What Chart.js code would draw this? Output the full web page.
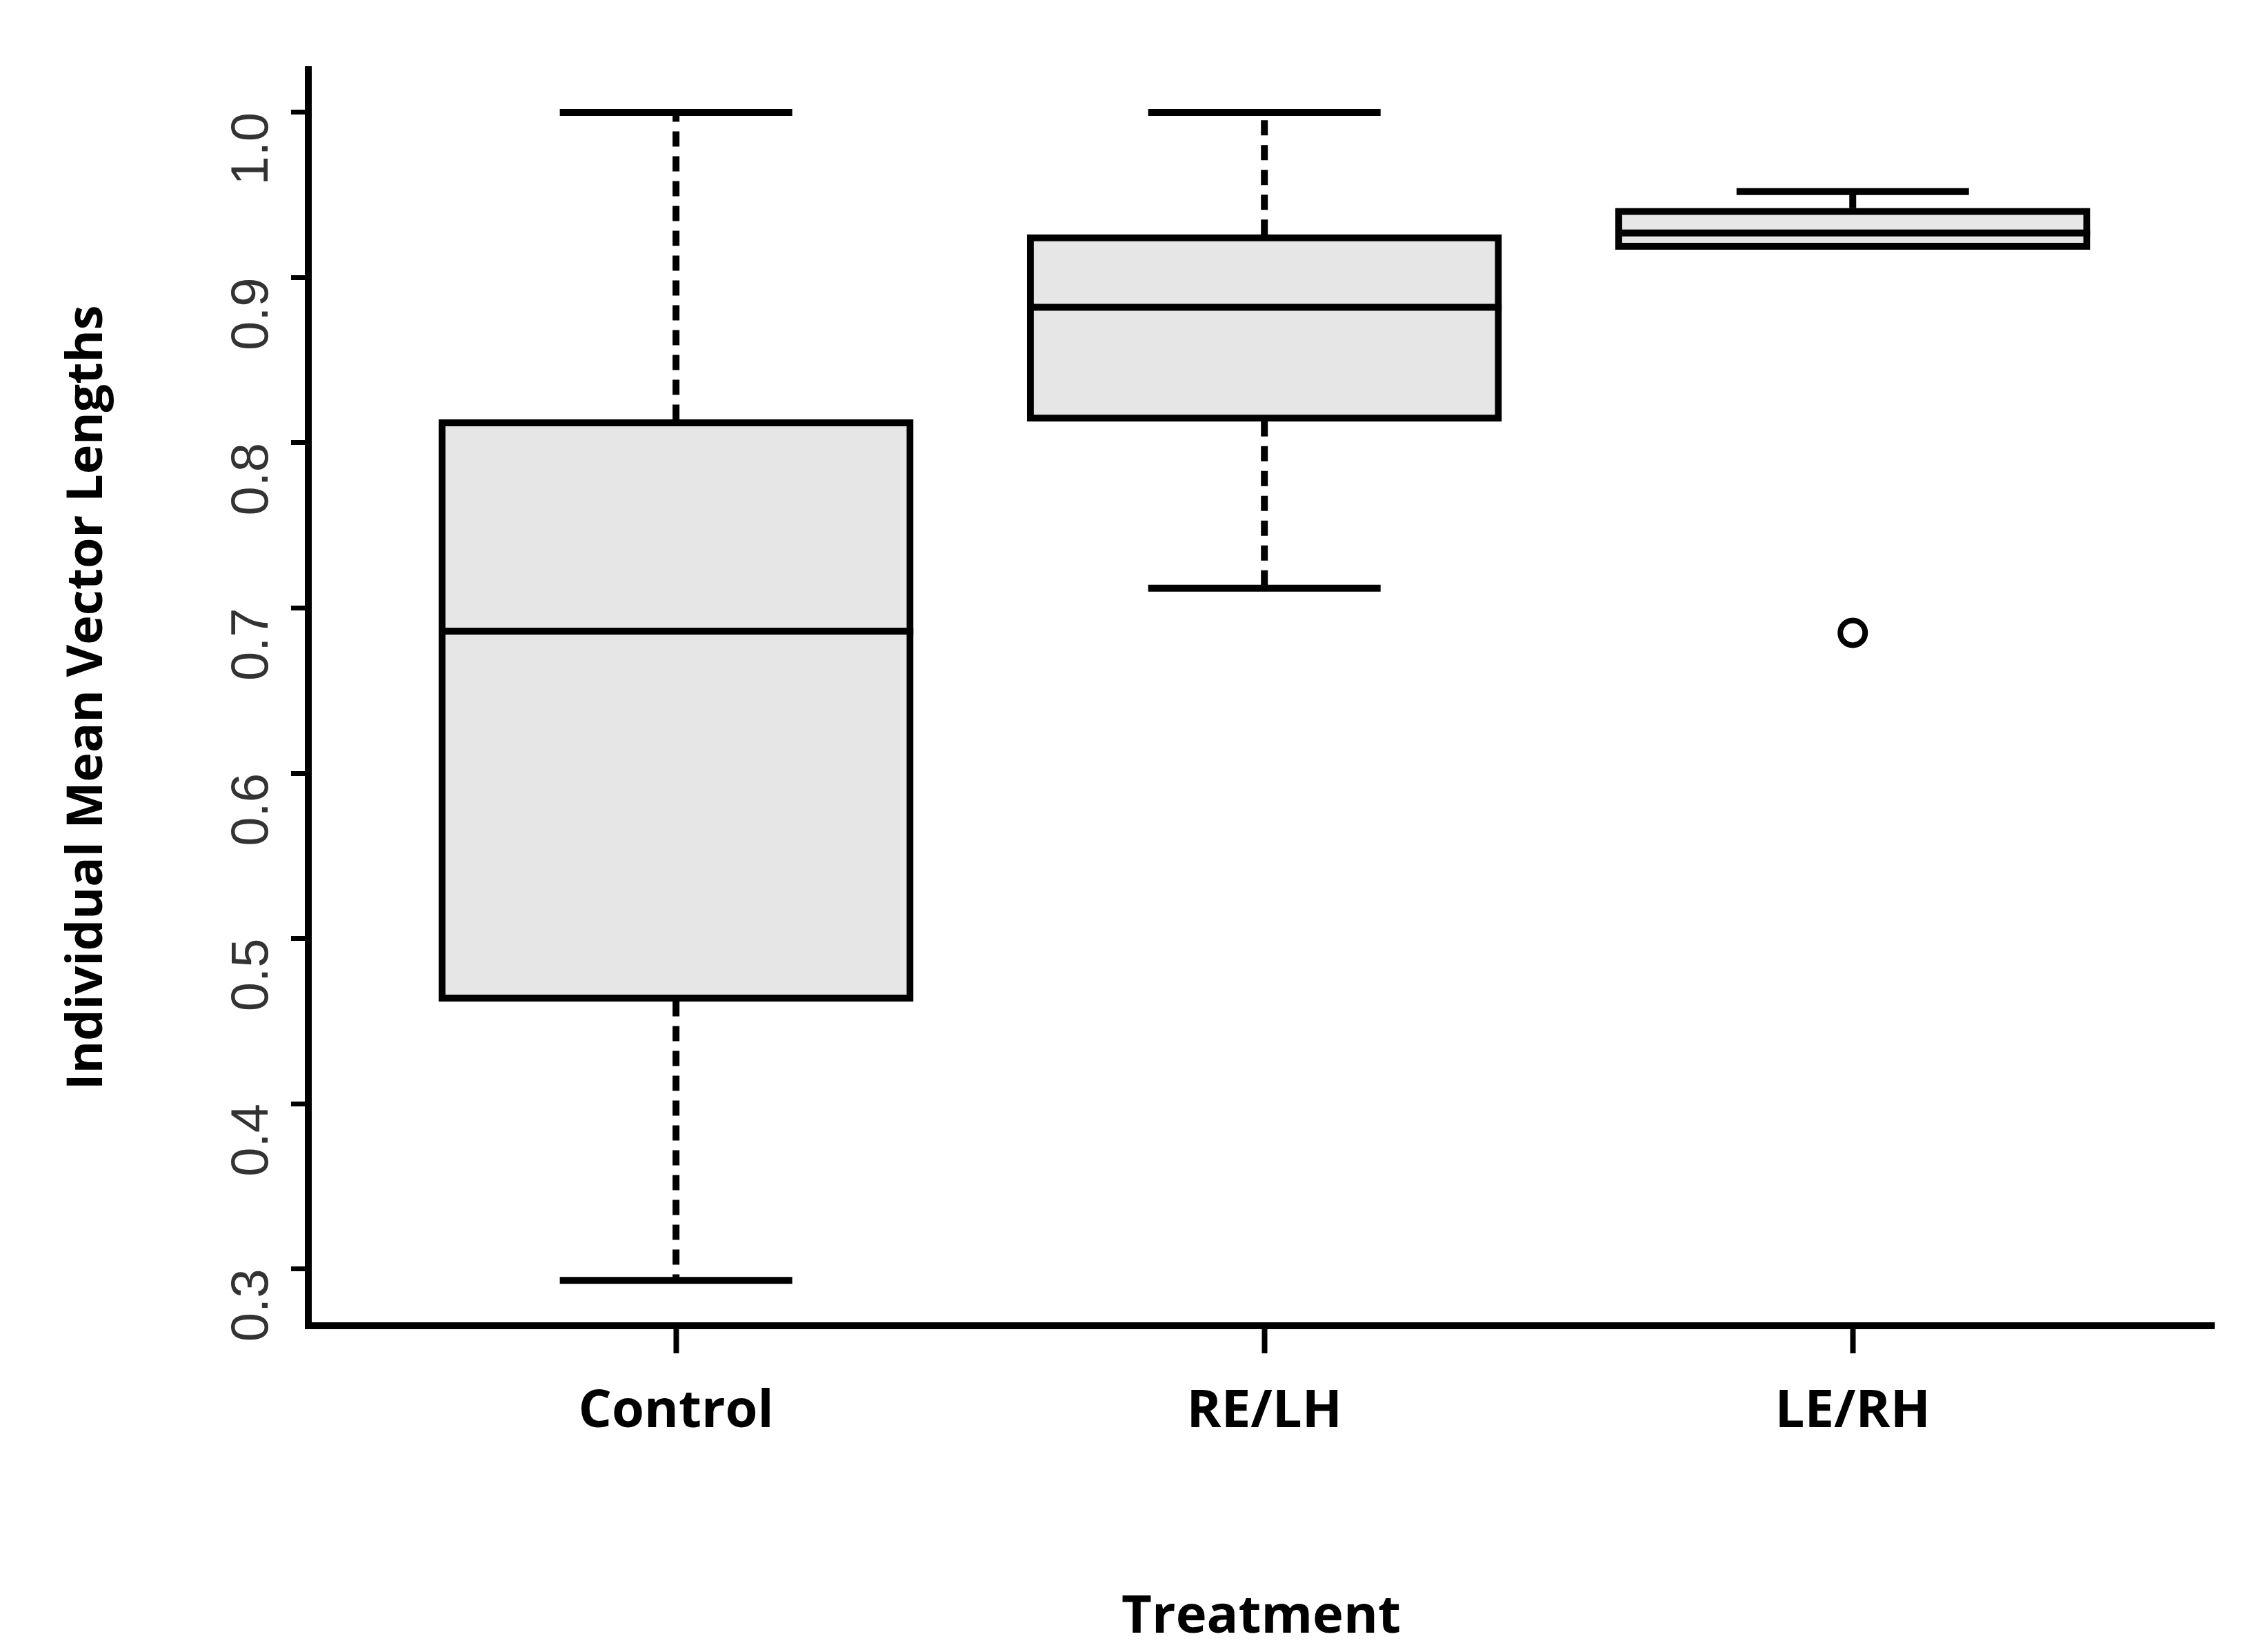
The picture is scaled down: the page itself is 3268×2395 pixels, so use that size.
<!DOCTYPE html>
<html>
<head>
<meta charset="utf-8">
<script src="https://cdn.jsdelivr.net/npm/chart.js@4"></script>
<style>
  html, body { margin: 0; padding: 0; background: #fff; }
  #wrap { width: 3268px; height: 2395px; }
</style>
</head>
<body>
<div id="wrap"><canvas id="c" width="3268" height="2395"></canvas></div>
<script>
const groups = ["Control", "RE/LH", "LE/RH"];
const whiskerLow = [0.293, 0.712, 0.917];
const q1 = [0.462, 0.813, 0.917];
const median = [0.686, 0.882, 0.927];
const q3 = [0.814, 0.926, 0.942];
const whiskerHigh = [1.0, 1.0, 0.952];
const outliers = [[], [], [0.685]];
const yTicks = [0.3, 0.4, 0.5, 0.6, 0.7, 0.8, 0.9, 1.0];

const LW = 10;
const CAP = 337;

// whiskers, caps, medians, outliers drawn from the scales
const boxExtras = {
    id: "boxExtras",
    afterDatasetsDraw(chart) {
        let ctx = chart.ctx;
        let x = chart.scales.x, y = chart.scales.y;
        ctx.save();
        ctx.strokeStyle = "#000";
        ctx.lineWidth = LW;
        groups.forEach((g, i) => {
            let cx = x.getPixelForValue(i);
            let bw = chart.getDatasetMeta(0).data[i].width;
            ctx.setLineDash([22, 14]);
            ctx.beginPath();
            ctx.moveTo(cx, y.getPixelForValue(q3[i]));
            ctx.lineTo(cx, y.getPixelForValue(whiskerHigh[i]));
            ctx.moveTo(cx, y.getPixelForValue(q1[i]));
            ctx.lineTo(cx, y.getPixelForValue(whiskerLow[i]));
            ctx.stroke();
            ctx.setLineDash([]);
            ctx.beginPath();
            [whiskerHigh[i], whiskerLow[i]].forEach(v => {
                if (v === q1[i] || v === q3[i]) return;
                ctx.moveTo(cx - CAP / 2, y.getPixelForValue(v));
                ctx.lineTo(cx + CAP / 2, y.getPixelForValue(v));
            });
            ctx.stroke();
            ctx.beginPath();
            ctx.moveTo(cx - bw / 2, y.getPixelForValue(median[i]));
            ctx.lineTo(cx + bw / 2, y.getPixelForValue(median[i]));
            ctx.stroke();
            ctx.lineWidth = 8;
            outliers[i].forEach(v => {
                ctx.beginPath();
                ctx.arc(cx, y.getPixelForValue(v), 18, 0, Math.PI * 2);
                ctx.stroke();
            });
            ctx.lineWidth = LW;
        });
        ctx.restore();
    }
};

new Chart(document.getElementById("c"), {
    type: "bar",
    data: {
        datasets: [{
            data: groups.map((g, i) => ({x: i, y: [q1[i], q3[i]]})),
            backgroundColor: "#e6e6e6",
            borderColor: "#000",
            borderWidth: LW,
            borderSkipped: false,
            barThickness: 688
        }]
    },
    options: {
        responsive: false,
        animation: false,
        devicePixelRatio: 1,
        layout: {padding: {top: 67, right: 58, left: 80, bottom: 0}},
        plugins: {legend: {display: false}, tooltip: {enabled: false}},
        scales: {
            x: {
                type: "linear",
                offset: false,
                min: -0.625,
                max: 2.614,
                afterFit: s => { s.height = 473; },
                afterBuildTicks: s => { s.ticks = groups.map((g, i) => ({value: i})); },
                border: {color: "#000", width: LW},
                grid: {offset: false, drawOnChartArea: false, drawTicks: true, tickLength: 40, tickWidth: 8, color: "#000"},
                ticks: {
                    padding: 40,
                    color: "#000",
                    font: {family: "Open Sans", weight: "bold", size: 76},
                    callback: v => groups[v] ?? ""
                },
                title: {
                    display: true,
                    text: "Treatment",
                    color: "#000",
                    font: {family: "Open Sans", weight: "bold", size: 76},
                    padding: {top: 150}
                }
            },
            y: {
                min: 0.2656,
                max: 1.026,
                afterFit: s => { s.width = 367; },
                afterBuildTicks: s => { s.ticks = yTicks.map(v => ({value: v})); },
                border: {color: "#000", width: LW},
                grid: {drawOnChartArea: false, drawTicks: true, tickLength: 25, tickWidth: 7, color: "#000"},
                ticks: {
                    minRotation: 90,
                    maxRotation: 90,
                    padding: 55,
                    color: "#333",
                    font: {family: "Liberation Sans", size: 76},
                    callback: v => v.toFixed(1)
                },
                title: {
                    display: true,
                    text: "Individual Mean Vector Lengths",
                    color: "#000",
                    font: {family: "Open Sans", weight: "bold", size: 72},
                    padding: {bottom: 20}
                }
            }
        }
    },
    plugins: [boxExtras]
});
</script>
</body>
</html>
